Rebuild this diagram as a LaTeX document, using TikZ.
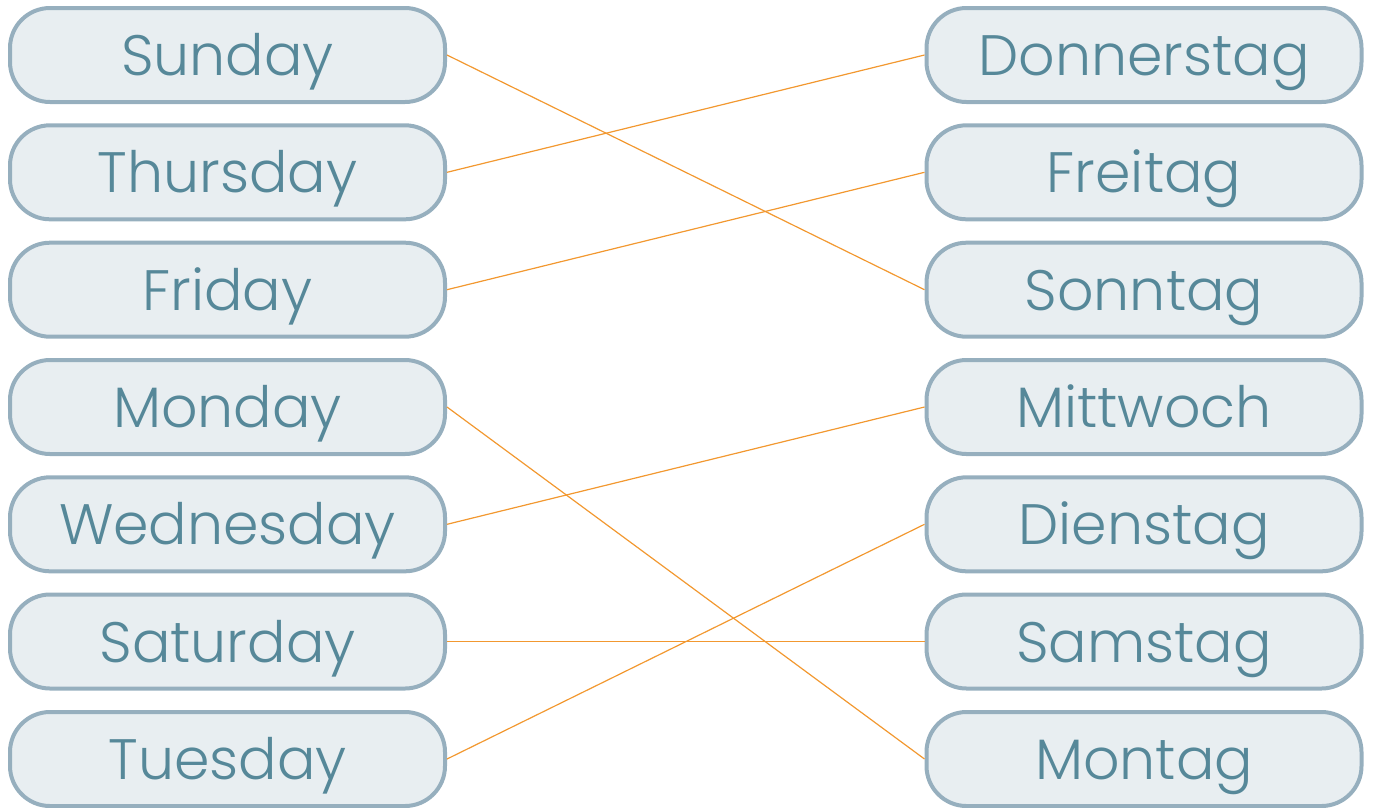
\documentclass[tikz,border=0pt]{standalone}
\usepackage{fontspec}
\setmainfont{Poppins}[UprightFont=* Light]
\definecolor{boxfill}{RGB}{232,238,241}
\definecolor{boxline}{RGB}{150,175,190}
\definecolor{txt}{RGB}{86,136,153}
\definecolor{link}{RGB}{242,152,48}
\begin{document}
\begin{tikzpicture}[x=1pt,y=-1pt,
  day/.style={draw=boxline,fill=boxfill,line width=4pt,rounded corners=40pt,
    minimum width=435pt,minimum height=94pt,inner sep=0pt,text=txt,
    font=\fontsize{57}{64}\selectfont,text height=41pt,text depth=0pt},
  conn/.style={draw=link,line width=1.2pt}]
\useasboundingbox (0,0) rectangle (1375,807);
\node[day] (sun) at (227.5,55) {Sunday};
\node[day] (thu) at (227.5,172.3) {Thursday};
\node[day] (fri) at (227.5,289.7) {Friday};
\node[day] (mon) at (227.5,407) {Monday};
\node[day] (wed) at (227.5,524.3) {Wednesday};
\node[day] (sat) at (227.5,641.5) {Saturday};
\node[day] (tue) at (227.5,759) {Tuesday};
\node[day] (don) at (1144,55) {Donnerstag};
\node[day] (fre) at (1144,172.3) {Freitag};
\node[day] (son) at (1144,289.7) {Sonntag};
\node[day] (mit) at (1144,407) {Mittwoch};
\node[day] (die) at (1144,524.3) {Dienstag};
\node[day] (sam) at (1144,641.5) {Samstag};
\node[day] (mo) at (1144,759) {Montag};
\draw[conn] (sun.east) -- (son.west);
\draw[conn] (thu.east) -- (don.west);
\draw[conn] (fri.east) -- (fre.west);
\draw[conn] (mon.east) -- (mo.west);
\draw[conn] (wed.east) -- (mit.west);
\draw[conn] (sat.east) -- (sam.west);
\draw[conn] (tue.east) -- (die.west);
\end{tikzpicture}
\end{document}
